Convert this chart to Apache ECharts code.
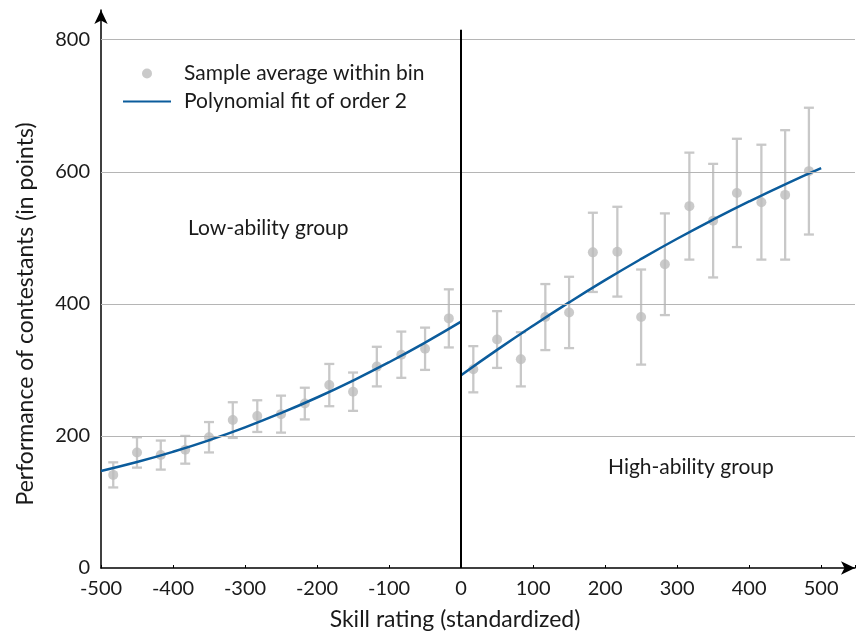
<!DOCTYPE html>
<html>
<head>
<meta charset="utf-8">
<script src="https://cdn.jsdelivr.net/npm/echarts@6/dist/echarts.min.js"></script>
<style>
  html, body { margin: 0; padding: 0; background: #fff; }
  #chart { width: 858px; height: 636px; }
</style>
</head>
<body>
<div id="chart"></div>
<script>
  // bin centres (skill rating)
  const binLeft = [-483, -450, -417, -383, -350, -317, -283, -250, -217, -183, -150, -117, -83, -50, -17]
  const binRight = [17, 50, 83, 117, 150, 183, 217, 250, 283, 317, 350, 383, 417, 450, 483]

  // sample averages and error half-widths
  const meanLeft = [141, 175, 171, 179, 198, 224, 230, 233, 249, 277, 267, 305, 323, 332, 378]
  const errLeft = [19, 23, 22, 21, 23, 27, 24, 28, 24, 32, 29, 30, 35, 32, 44]
  const meanRight = [301, 346, 316, 380, 387, 478, 479, 380, 460, 548, 526, 568, 554, 565, 601]
  const errRight = [35, 43, 41, 50, 54, 60, 68, 72, 77, 81, 86, 82, 87, 98, 96]

  const fitXLeft = [-500, -450, -400, -350, -300, -250, -200, -150, -100, -50, 0]
  const fitLeft = [147, 160.5, 176, 193.5, 213, 234.6, 258.2, 283.9, 311.6, 341.3, 373]
  const fitXRight = [0, 50, 100, 150, 200, 250, 300, 350, 400, 450, 500]
  const fitRight = [292, 330.3, 367, 402.2, 435.9, 468, 498.6, 527.6, 555.1, 581.1, 605.5]

  const yTicks = [200, 400, 600, 800]

  const FONT = 'Lato'
  const POINT = '#bdbdbd'
  const BAR = '#c8c8c8'
  const FIT = '#0b5c9c'
  const TXT = '#1a1a1a'

  const zip = (xs, ys) => xs.map((x, i) => [x, ys[i]])
  const errData = [
    ...binLeft.map((x, i) => [x, meanLeft[i] - errLeft[i], meanLeft[i] + errLeft[i]]),
    ...binRight.map((x, i) => [x, meanRight[i] - errRight[i], meanRight[i] + errRight[i]])
  ]

  const chart = echarts.init(document.getElementById('chart'))

  const option = {
    animation: false,
    textStyle: { fontFamily: FONT },
    grid: { left: 101, right: 3, top: 10, bottom: 68 },
    legend: {
      orient: 'vertical',
      left: 122,
      top: 63,
      padding: 0,
      itemWidth: 48,
      itemHeight: 10,
      itemGap: 7,
      textStyle: { fontFamily: FONT, fontSize: 21, color: TXT, padding: [0, 0, 0, 8] },
      data: [
        { name: 'Sample average within bin', icon: 'circle' },
        { name: 'Polynomial fit of order 2', itemStyle: { opacity: 0 } }
      ]
    },
    xAxis: {
      type: 'value',
      min: -500,
      max: 547,
      interval: 100,
      name: 'Skill rating (standardized)',
      nameLocation: 'middle',
      nameGap: 40,
      nameTextStyle: { fontFamily: FONT, fontSize: 23, color: TXT, padding: [0, 46, 0, 0] },
      axisLine: { lineStyle: { color: '#000', width: 1.5 }, symbol: ['none', 'arrow'], symbolSize: [10, 14] },
      axisTick: { show: true, inside: true, length: 3, lineStyle: { color: '#000' } },
      axisLabel: {
        fontFamily: FONT, fontSize: 20, color: TXT, margin: 11,
        formatter: v => (v % 100 === 0 ? String(v) : '')
      },
      splitLine: { show: false }
    },
    yAxis: {
      type: 'value',
      min: 0,
      max: 845,
      interval: 200,
      name: 'Performance of contestants (in points)',
      nameLocation: 'middle',
      nameGap: 64,
      nameTextStyle: { fontFamily: FONT, fontSize: 23, color: TXT, padding: [0, 50, 0, 0] },
      axisLine: {
        show: true, onZero: false,
        lineStyle: { color: '#000', width: 1.5 }, symbol: ['none', 'arrow'], symbolSize: [10, 14]
      },
      axisTick: { show: false },
      axisLabel: {
        fontFamily: FONT, fontSize: 20, color: TXT, margin: 11,
        formatter: v => (v % 200 === 0 ? String(v) : '')
      },
      splitLine: { show: false }
    },
    graphic: [
      { type: 'text', left: 188, top: 218, style: { text: 'Low-ability group', font: '21px ' + FONT, fill: TXT } },
      { type: 'text', left: 608, top: 457, style: { text: 'High-ability group', font: '21px ' + FONT, fill: TXT } }
    ],
    series: [
      {
        // horizontal grid lines + the cut-off line at 0
        type: 'line',
        data: [],
        silent: true,
        markLine: {
          symbol: 'none',
          silent: true,
          label: { show: false },
          data: [
            ...yTicks.map(v => ({ yAxis: v, lineStyle: { color: '#b5b5b5', width: 1, type: 'solid' } })),
            [
              { coord: [0, 0], lineStyle: { color: '#000', width: 2, type: 'solid' } },
              { coord: [0, 815] }
            ]
          ]
        },
        z: 1
      },
      {
        type: 'custom',
        name: 'errors',
        data: errData,
        z: 2,
        renderItem: (params, api) => {
          const x = api.value(0)
          const lo = api.coord([x, api.value(1)])
          const hi = api.coord([x, api.value(2)])
          const w = 5
          const style = { stroke: BAR, lineWidth: 2.3 }
          return {
            type: 'group',
            children: [
              { type: 'line', shape: { x1: lo[0], y1: lo[1], x2: hi[0], y2: hi[1] }, style },
              { type: 'line', shape: { x1: lo[0] - w, y1: lo[1], x2: lo[0] + w, y2: lo[1] }, style },
              { type: 'line', shape: { x1: hi[0] - w, y1: hi[1], x2: hi[0] + w, y2: hi[1] }, style }
            ]
          }
        }
      },
      {
        name: 'Sample average within bin',
        type: 'scatter',
        symbolSize: 10,
        itemStyle: { color: POINT },
        data: [...zip(binLeft, meanLeft), ...zip(binRight, meanRight)],
        z: 3
      },
      {
        name: 'Polynomial fit of order 2',
        type: 'line',
        smooth: true,
        symbol: 'none',
        lineStyle: { color: FIT, width: 2.5 },
        itemStyle: { color: FIT },
        data: zip(fitXLeft, fitLeft),
        z: 4
      },
      {
        name: 'Polynomial fit of order 2',
        type: 'line',
        smooth: true,
        symbol: 'none',
        lineStyle: { color: FIT, width: 2.5 },
        itemStyle: { color: FIT },
        data: zip(fitXRight, fitRight),
        z: 4
      }
    ]
  }

  chart.setOption(option)
</script>
</body>
</html>
